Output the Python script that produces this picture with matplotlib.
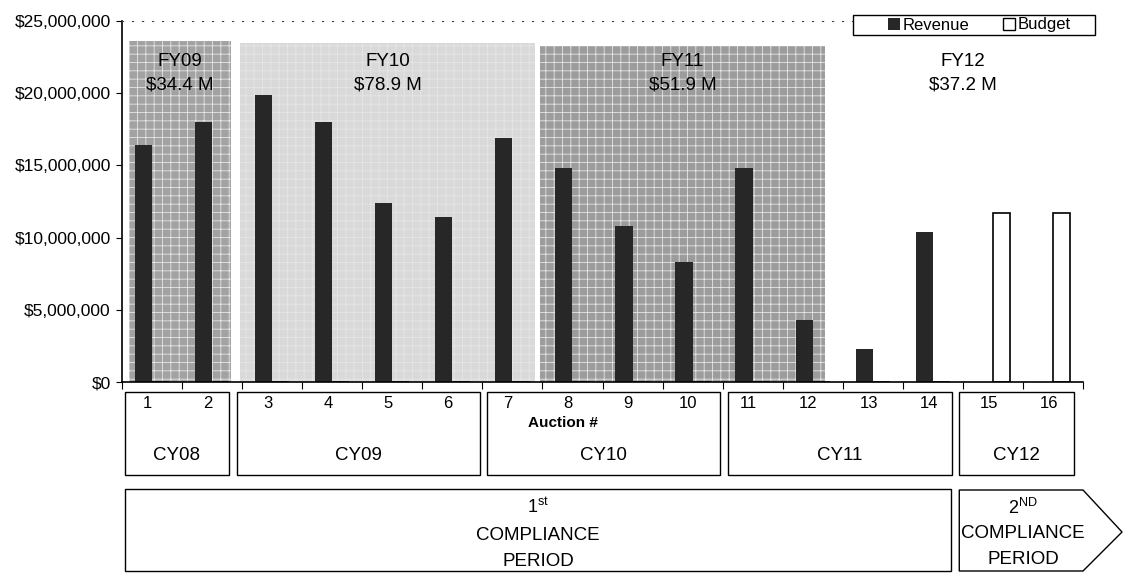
import numpy as np
import matplotlib.pyplot as plt
from matplotlib.patches import Rectangle, Polygon, Patch
from matplotlib.ticker import FuncFormatter, FixedLocator, NullLocator
from matplotlib.transforms import blended_transform_factory

plt.rcParams['font.family'] = ['Liberation Sans', 'DejaVu Sans']
plt.rcParams['mathtext.fontset'] = 'custom'
plt.rcParams['mathtext.rm'] = 'Liberation Sans'
plt.rcParams['hatch.linewidth'] = 0.6

# data ($ millions)
auctions = np.arange(1, 17)
revenue = [16.4, 18.0, 19.9, 18.0, 12.4, 11.4, 16.9, 14.8, 10.8, 8.3, 14.8, 4.3, 2.3, 10.4, 0, 0]
budget = [0] * 14 + [11.7, 11.7]

fy_labels = ['FY09', 'FY10', 'FY11', 'FY12']
fy_totals = ['$34.4 M', '$78.9 M', '$51.9 M', '$37.2 M']
fy_spans = [(0.62, 2.31), (2.46, 7.38), (7.46, 12.2), (12.2, 16.8)]
fy_tops = [23.6, 23.5, 23.3, 0]
fy_colors = ['#a2a2a2', '#d9d9d9', '#9c9c9c', 'none']

cy_labels = ['CY08', 'CY09', 'CY10', 'CY11', 'CY12']
cy_spans = [(0.55, 2.28), (2.41, 6.46), (6.58, 10.46), (10.59, 14.32), (14.44, 16.35)]

W, H = 1138, 573
fig = plt.figure(figsize=(W / 100, H / 100), dpi=100)
ax = fig.add_axes([122 / W, 191 / H, 961 / W, 361 / H])

# fiscal year shading
for lab, tot, (x0, x1), top, c in zip(fy_labels, fy_totals, fy_spans, fy_tops, fy_colors):
    if c != 'none':
        ax.add_patch(Rectangle((x0, 0), x1 - x0, top, facecolor=c, edgecolor='#e6e6e6',
                               hatch='++', linewidth=0, zorder=0))
    xc = (x0 + x1) / 2
    ax.text(xc, 22.2, lab, ha='center', va='center', fontsize=13.5, zorder=3)
    ax.text(xc, 20.6, tot, ha='center', va='center', fontsize=13.5, zorder=3)

bw = 0.286
ax.bar(auctions - bw / 2, revenue, bw, color='#272727', zorder=2, label='Revenue')
ax.bar(auctions + bw / 2, budget, bw, color='white', edgecolor='black', linewidth=1.2,
       zorder=2, label='Budget')

ax.set_xlim(0.5, 16.5)
ax.set_ylim(0, 25)
ax.yaxis.set_major_locator(FixedLocator([0, 5, 10, 15, 20, 25]))
ax.yaxis.set_major_formatter(FuncFormatter(lambda v, p: '${:,.0f}'.format(v * 1e6)))
ax.tick_params(axis='y', direction='out', length=4, labelsize=12.5, pad=4)
ax.xaxis.set_major_locator(FixedLocator(np.arange(0.5, 17, 1)))
ax.xaxis.set_minor_locator(NullLocator())
ax.tick_params(axis='x', direction='out', length=5, labelbottom=False)
ax.spines['right'].set_visible(False)
ax.spines['top'].set_linestyle((0, (1, 8)))
ax.spines['top'].set_color('#444444')
ax.spines['left'].set_linewidth(1.2)
ax.spines['bottom'].set_linewidth(1.2)
ax.set_facecolor('white')

# layout overlay in pixel units (y) and auction units (x)
ov = fig.add_axes([0, 0, 1, 1])
ov.set_xlim(0, W)
ov.set_ylim(H, 0)
ov.axis('off')
tr = blended_transform_factory(ax.transData, ov.transData)

# legend (wide Excel-style frame)
ov.add_patch(Rectangle((853, 15), 242, 20, facecolor='white', edgecolor='black', linewidth=1))
handles = [Patch(facecolor='#272727'), Patch(facecolor='white', edgecolor='black')]
fig.legend(handles, ['Revenue', 'Budget'], loc='center left',
           bbox_to_anchor=(878 / W, 1 - 25 / H), ncol=2, frameon=False,
           fontsize=12, handlelength=0.7, handleheight=0.7, handletextpad=0.2,
           columnspacing=2.0, borderpad=0.1)

for i in auctions:
    ov.text(i - 0.07, 403, str(i), transform=tr, ha='center', va='center', fontsize=12)

for lab, (x0, x1) in zip(cy_labels, cy_spans):
    ov.add_patch(Rectangle((x0, 392), x1 - x0, 83, transform=tr, facecolor='white',
                           edgecolor='black', linewidth=1))
    ov.text((x0 + x1) / 2, 456, lab, transform=tr, ha='center', va='center', fontsize=13.5)

ov.text(7.84, 423, 'Auction #', transform=tr, ha='center', va='center',
        fontsize=11, fontweight='bold')

# compliance periods
ov.add_patch(Rectangle((0.55, 489), 14.3 - 0.55, 82, transform=tr, facecolor='white',
                       edgecolor='black', linewidth=1))
xc1 = (0.55 + 14.3) / 2
ov.text(xc1, 507, r'1$^{\mathrm{st}}$', transform=tr, ha='center', va='center', fontsize=13)
ov.text(xc1, 535, 'COMPLIANCE', transform=tr, ha='center', va='center', fontsize=13.5)
ov.text(xc1, 562, 'PERIOD', transform=tr, ha='center', va='center', fontsize=13.5)

ov.add_patch(Polygon([(14.44, 490), (16.5, 490), (17.15, 532), (16.5, 571), (14.44, 571)],
                     closed=True, transform=tr, facecolor='white', edgecolor='black',
                     linewidth=1))
ov.text(15.5, 508, r'2$^{\mathrm{ND}}$', transform=tr, ha='center', va='center', fontsize=13)
ov.text(15.5, 533, 'COMPLIANCE', transform=tr, ha='center', va='center', fontsize=13.5)
ov.text(15.5, 560, 'PERIOD', transform=tr, ha='center', va='center', fontsize=13.5)

fig.savefig('out.png', dpi=100)
